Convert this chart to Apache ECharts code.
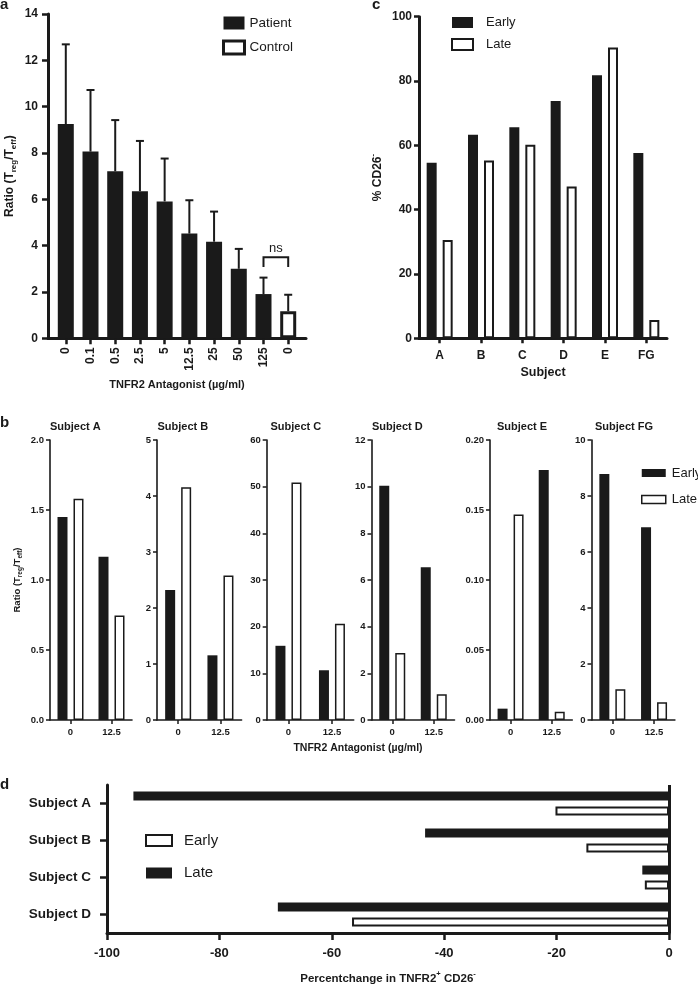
<!DOCTYPE html>
<html>
<head>
<meta charset="utf-8">
<script src="https://cdn.jsdelivr.net/npm/echarts@6/dist/echarts.min.js"></script>
<style>
html,body{margin:0;padding:0;background:#fff;}
#chart{width:698px;height:986px;}
</style>
</head>
<body>
<div id="chart"></div>
<script>
// ---------- Panel a ----------
const aCategories = ['0', '0.1', '0.5', '2.5', '5', '12.5', '25', '50', '125', '0'];
const aPatient = [9.25, 8.06, 7.21, 6.35, 5.91, 4.52, 4.17, 3.00, 1.91];
const aControl = [1.17];
const aSD = [3.44, 2.66, 2.21, 2.17, 1.85, 1.44, 1.30, 0.86, 0.71, 0.71];
const aNsPair = [8, 9];

// ---------- Panel c ----------
const cSubjects = ['A', 'B', 'C', 'D', 'E', 'FG'];
const cEarly = [54.6, 63.3, 65.6, 73.8, 81.8, 57.6];
const cLate = [30.6, 55.3, 60.2, 47.2, 90.4, 5.7];

// ---------- Panel b ----------
const bDoses = ['0', '12.5'];
const bTitles = ['Subject A', 'Subject B', 'Subject C', 'Subject D', 'Subject E', 'Subject FG'];
const bEarlyA = [1.45, 1.166],  bLateA = [1.58, 0.747];
const bEarlyB = [2.32, 1.155],  bLateB = [4.155, 2.58];
const bEarlyC = [15.9, 10.66],  bLateC = [50.9, 20.6];
const bEarlyD = [10.04, 6.55],  bLateD = [2.875, 1.10];
const bEarlyE = [0.0081, 0.1786], bLateE = [0.1467, 0.0059];
const bEarlyFG = [8.79, 6.88],  bLateFG = [1.10, 0.63];
const bYMax = [2, 5, 60, 12, 0.2, 10];
const bYStep = [0.5, 1, 10, 2, 0.05, 2];
const bYDecimals = [1, 0, 0, 0, 2, 0];

// ---------- Panel d ----------
const dSubjects = ['Subject A', 'Subject B', 'Subject C', 'Subject D'];
const dLate = [-95.3, -43.4, -4.75, -69.6];
const dEarly = [-20.2, -14.7, -4.3, -56.4];

// ---------- build ----------
const INK = '#1a1a1a';
const FONT = '"Liberation Sans", Arial, Helvetica, sans-serif';
const bEarly = [bEarlyA, bEarlyB, bEarlyC, bEarlyD, bEarlyE, bEarlyFG];
const bLate = [bLateA, bLateB, bLateC, bLateD, bLateE, bLateFG];
const aAll = aPatient.concat(aControl);
const aIdx = aCategories.map((_, i) => i);

function lbl(size, extra) {
  return Object.assign({fontSize: size, fontWeight: 'bold', fontFamily: FONT, color: INK}, extra || {});
}
function line(w) { return {show: true, onZero: false, lineStyle: {color: INK, width: w}}; }
function tick(len, w, extra) { return Object.assign({show: true, length: len, lineStyle: {color: INK, width: w}}, extra || {}); }

const grids = [];
const xAxes = [];
const yAxes = [];
const series = [];
const titles = [];

// Panel a (grid 0)
grids.push({left: 48, top: 14, width: 258, height: 324.3});
xAxes.push({
  gridIndex: 0, type: 'value', min: -0.72, max: 9.72,
  axisLine: line(3),
  axisTick: tick(6, 2.5, {customValues: aIdx}),
  axisLabel: lbl(12, {customValues: aIdx, formatter: v => aCategories[Math.round(v)], rotate: 90, margin: 9}),
  splitLine: {show: false},
  name: 'TNFR2 Antagonist (µg/ml)', nameLocation: 'middle', nameGap: 41,
  nameTextStyle: lbl(11)
});
yAxes.push({
  gridIndex: 0, type: 'value', min: 0, max: 14, interval: 2,
  axisLine: line(3), axisTick: tick(6, 2.5),
  axisLabel: lbl(12, {margin: 10}),
  splitLine: {show: false},
  name: '{n|Ratio (T}{s|reg}{n|/T}{s|eff}{n|)}', nameLocation: 'middle', nameGap: 30,
  nameTextStyle: {rich: {
    n: lbl(12, {lineHeight: 14, verticalAlign: 'top'}),
    s: lbl(8, {lineHeight: 10, verticalAlign: 'top', padding: [6, 0, 0, 0]})
  }}
});
series.push({
  name: 'Patient', type: 'bar', xAxisIndex: 0, yAxisIndex: 0, barWidth: 16, barGap: '-100%',
  data: aPatient.map((v, i) => [i, v]),
  itemStyle: {color: INK}
});
series.push({
  name: 'Control', type: 'bar', xAxisIndex: 0, yAxisIndex: 0, barWidth: 16, barGap: '-100%',
  data: aControl.map((v, i) => [aPatient.length + i, v]),
  itemStyle: {color: '#fff', borderColor: INK, borderWidth: 3}
});
series.push({
  type: 'custom', xAxisIndex: 0, yAxisIndex: 0, z: 5,
  data: aAll.map((v, i) => [i, v, v + aSD[i]]),
  encode: {x: 0, y: [1, 2]},
  renderItem: function (params, api) {
    const x = api.value(0);
    const p0 = api.coord([x, api.value(1)]);
    const p1 = api.coord([x, api.value(2)]);
    const cap = 4;
    return {type: 'group', children: [
      {type: 'line', shape: {x1: p0[0], y1: p0[1], x2: p1[0], y2: p1[1]}, style: {stroke: INK, lineWidth: 2}},
      {type: 'line', shape: {x1: p1[0] - cap, y1: p1[1], x2: p1[0] + cap, y2: p1[1]}, style: {stroke: INK, lineWidth: 2}}
    ]};
  }
});
series.push({
  type: 'custom', xAxisIndex: 0, yAxisIndex: 0, z: 5,
  data: [aNsPair],
  encode: {x: [0, 1]},
  renderItem: function (params, api) {
    const i0 = api.value(0), i1 = api.value(1);
    const top = Math.max(aAll[i0] + aSD[i0], aAll[i1] + aSD[i1]) + 0.88;
    const leg = top - 0.42;
    const p = [api.coord([i0, leg]), api.coord([i0, top]), api.coord([i1, top]), api.coord([i1, leg])];
    return {type: 'group', children: [
      {type: 'polyline', shape: {points: p}, style: {stroke: INK, fill: null, lineWidth: 2}},
      {type: 'text', style: {text: 'ns', x: (p[1][0] + p[2][0]) / 2, y: p[1][1] - 2, align: 'center', verticalAlign: 'bottom',
        fontSize: 13, fontFamily: FONT, fill: INK}}
    ]};
  }
});

// Panel c (grid 1)
grids.push({left: 419, top: 16.7, width: 248, height: 321.6});
xAxes.push({
  gridIndex: 1, type: 'category', data: cSubjects,
  axisLine: line(3), axisTick: tick(5, 2.5, {alignWithLabel: true}),
  axisLabel: lbl(12, {margin: 11}),
  name: 'Subject', nameLocation: 'middle', nameGap: 28, nameTextStyle: lbl(12.5)
});
yAxes.push({
  gridIndex: 1, type: 'value', min: 0, max: 100, interval: 20,
  axisLine: line(3), axisTick: tick(5, 2.5),
  axisLabel: lbl(12, {margin: 7}),
  splitLine: {show: false},
  name: '{n|% CD26}{p|-}', nameLocation: 'middle', nameGap: 36,
  nameTextStyle: {rich: {
    n: lbl(12, {lineHeight: 14, verticalAlign: 'top', padding: [3, 0, 0, 0]}),
    p: lbl(8, {lineHeight: 9, verticalAlign: 'top'})
  }}
});
series.push({name: 'Early', type: 'bar', xAxisIndex: 1, yAxisIndex: 1, barWidth: 10, barGap: '60%',
  data: cEarly, itemStyle: {color: INK}});
series.push({name: 'Late', type: 'bar', xAxisIndex: 1, yAxisIndex: 1, barWidth: 10, barGap: '60%',
  data: cLate, itemStyle: {color: '#fff', borderColor: INK, borderWidth: 2}});

// Panel b (grids 2..7)
const bLeft = [50, 157, 266.7, 371.5, 490, 591.5];
const bWidth = [82, 84.6, 87, 83, 82.3, 83.4];
const bTitleLeft = [50, 157.5, 270.5, 372, 497, 595];
for (let k = 0; k < 6; k++) {
  const gi = 2 + k;
  grids.push({left: bLeft[k], top: 440, width: bWidth[k], height: 280});
  xAxes.push({
    gridIndex: gi, type: 'category', data: bDoses,
    axisLine: line(1.6), axisTick: tick(4, 1.5, {alignWithLabel: true}),
    axisLabel: lbl(9.5, {margin: 7})
  });
  const dec = bYDecimals[k];
  const yA = {
    gridIndex: gi, type: 'value', min: 0, max: bYMax[k], interval: bYStep[k],
    axisLine: line(1.6), axisTick: tick(4, 1.5),
    axisLabel: lbl(9.5, {margin: 6, formatter: v => v.toFixed(dec)}),
    splitLine: {show: false}
  };
  if (k === 0) {
    yA.name = '{n|Ratio (T}{s|reg}{n|/T}{s|eff}{n|)}';
    yA.nameLocation = 'middle';
    yA.nameGap = 27;
    yA.nameTextStyle = {rich: {
      n: lbl(9.5, {lineHeight: 11, verticalAlign: 'top'}),
      s: lbl(6.5, {lineHeight: 8, verticalAlign: 'top', padding: [5, 0, 0, 0]})
    }};
  }
  yAxes.push(yA);
  series.push({name: 'Early', type: 'bar', xAxisIndex: gi, yAxisIndex: gi, barWidth: 10, barGap: '60%',
    data: bEarly[k], itemStyle: {color: INK}});
  series.push({name: 'Late', type: 'bar', xAxisIndex: gi, yAxisIndex: gi, barWidth: 10, barGap: '60%',
    data: bLate[k], itemStyle: {color: '#fff', borderColor: INK, borderWidth: 1.5}});
  titles.push({text: bTitles[k], left: bTitleLeft[k], top: 421.5, padding: 0,
    textStyle: lbl(11)});
}

// Panel d (grid 8)
grids.push({left: 107, top: 785, width: 562, height: 149});
xAxes.push({
  gridIndex: 8, type: 'value', min: -100, max: 0, interval: 20,
  axisLine: line(3), axisTick: tick(7, 2.5),
  axisLabel: lbl(13, {margin: 14}),
  splitLine: {show: false},
  name: '{n|Percentchange in TNFR2}{p|+}{n| CD26}{p|-}', nameLocation: 'middle', nameGap: 37,
  nameTextStyle: {rich: {
    n: lbl(11.5, {lineHeight: 13, verticalAlign: 'top', padding: [3, 0, 0, 0]}),
    p: lbl(7.5, {lineHeight: 8, verticalAlign: 'top'})
  }}
});
yAxes.push({
  gridIndex: 8, type: 'category', data: dSubjects, inverse: true,
  axisLine: line(3), axisTick: tick(7, 2.5, {alignWithLabel: true}),
  axisLabel: lbl(13.5, {margin: 16})
});
series.push({name: 'Late', type: 'bar', xAxisIndex: 8, yAxisIndex: 8, barWidth: 9, barGap: '66%',
  data: dLate, itemStyle: {color: INK},
  markLine: {silent: true, symbol: 'none', label: {show: false},
    lineStyle: {color: INK, width: 3, type: 'solid'}, data: [{xAxis: 0}]}});
series.push({name: 'Early', type: 'bar', xAxisIndex: 8, yAxisIndex: 8, barWidth: 9, barGap: '66%',
  data: dEarly, itemStyle: {color: '#fff', borderColor: INK, borderWidth: 2}});

const blackItem = name => ({name: name, itemStyle: {color: INK, borderWidth: 0}});
const whiteItem = (name, bw) => ({name: name, itemStyle: {color: '#fff', borderColor: INK, borderWidth: bw}});
const legTxt = (size, lh, padL) => ({fontSize: size, fontFamily: FONT, color: INK, lineHeight: lh, padding: [0, 0, 0, padL]});

const option = {
  animation: false,
  backgroundColor: '#fff',
  textStyle: {fontFamily: FONT, color: INK},
  title: titles,
  grid: grids,
  xAxis: xAxes,
  yAxis: yAxes,
  legend: [
    {data: [blackItem('Patient'), whiteItem('Control', 3)], left: 222, top: 16, orient: 'vertical', padding: 0,
      icon: 'rect', itemWidth: 21, itemHeight: 13, itemGap: 9.5, selectedMode: false, textStyle: legTxt(13.5, 13, 0)},
    {data: [blackItem('Early'), whiteItem('Late', 2)], left: 451, top: 16, orient: 'vertical', padding: 0,
      icon: 'rect', itemWidth: 21, itemHeight: 11, itemGap: 9, selectedMode: false, textStyle: legTxt(13, 11, 8)},
    {data: [blackItem('Early'), whiteItem('Late', 1.5)], left: 641, top: 466.5, orient: 'vertical', padding: 0,
      icon: 'rect', itemWidth: 24, itemHeight: 8, itemGap: 13.5, selectedMode: false, textStyle: legTxt(13, 8, 1)},
    {data: [whiteItem('Early', 2), blackItem('Late')], left: 145, top: 833, orient: 'vertical', padding: 0,
      icon: 'rect', itemWidth: 26, itemHeight: 11, itemGap: 17.5, selectedMode: false, textStyle: legTxt(15, 11, 7)}
  ],
  graphic: [
    {type: 'text', style: {text: 'a', x: 0, y: 12, font: 'bold 15px ' + FONT, fill: INK, verticalAlign: 'bottom'}},
    {type: 'text', style: {text: 'c', x: 372, y: 12, font: 'bold 15px ' + FONT, fill: INK, verticalAlign: 'bottom'}},
    {type: 'text', style: {text: 'b', x: 0, y: 430, font: 'bold 15px ' + FONT, fill: INK, verticalAlign: 'bottom'}},
    {type: 'text', style: {text: 'd', x: 0, y: 792, font: 'bold 15px ' + FONT, fill: INK, verticalAlign: 'bottom'}},
    {type: 'text', style: {text: 'TNFR2 Antagonist (µg/ml)', x: 358, y: 748, font: 'bold 10.5px ' + FONT, fill: INK,
      align: 'center', verticalAlign: 'middle'}}
  ],
  series: series
};

const chart = echarts.init(document.getElementById('chart'), null, {renderer: 'canvas'});
chart.setOption(option);
</script>
</body>
</html>
